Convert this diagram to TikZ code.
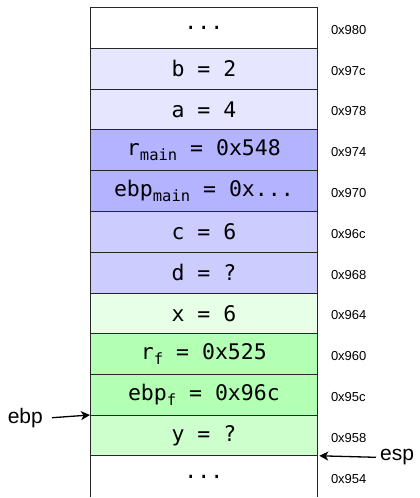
\documentclass[tikz,border=0pt]{standalone}
\usepackage{fontspec}
\setmainfont{Liberation Sans}
\newfontfamily\cellfont{DejaVu Sans Mono}
\usetikzlibrary{arrows.meta}
\definecolor{cWhite}{RGB}{255,255,255}
\definecolor{cLav}{RGB}{230,230,255}
\definecolor{cBlueDark}{RGB}{179,179,255}
\definecolor{cBlue}{RGB}{204,204,255}
\definecolor{cMint}{RGB}{230,255,230}
\definecolor{cGreenDark}{RGB}{179,255,179}
\definecolor{cGreen}{RGB}{204,255,204}
\newcommand\subtxt[1]{\raisebox{-5.5pt}{\fontsize{15.5}{15.5}\selectfont #1}}
\begin{document}
\begin{tikzpicture}[x=1pt,y=1pt,
  cell/.style={draw=black!85,line width=0.8pt,minimum width=227pt,minimum height=40.8pt,
    inner sep=0pt,anchor=north west,font=\cellfont\fontsize{21.5}{21.5}\selectfont},
  addr/.style={anchor=west,inner sep=0pt,font=\fontsize{13}{13}\selectfont},
  lbl/.style={inner sep=0pt,font=\fontsize{21}{21}\selectfont},
  ptr/.style={-{Stealth[length=9pt,width=9pt,inset=2.5pt]},line width=1.3pt}]
\useasboundingbox (0,-498) rectangle (420,0);
% rows
\node[cell,fill=cWhite] (r0) at (90,-7) {...};
\node[cell,fill=cLav] (r1) at (90,-47.8) {b = 2};
\node[cell,fill=cLav] (r2) at (90,-88.6) {a = 4};
\node[cell,fill=cBlueDark] (r3) at (90,-129.4) {r\subtxt{main} = 0x548};
\node[cell,fill=cBlueDark] (r4) at (90,-170.2) {ebp\subtxt{main} = 0x...};
\node[cell,fill=cBlue] (r5) at (90,-211.0) {c = 6};
\node[cell,fill=cBlue] (r6) at (90,-251.8) {d = ?};
\node[cell,fill=cMint] (r7) at (90,-292.6) {x = 6};
\node[cell,fill=cGreenDark] (r8) at (90,-333.4) {r\subtxt{f} = 0x525};
\node[cell,fill=cGreenDark] (r9) at (90,-374.2) {ebp\subtxt{f} = 0x96c};
\node[cell,fill=cGreen] (r10) at (90,-415.0) {y = ?};
\node[cell,draw=none,fill=cWhite] (r11) at (90,-455.8) {...};
\draw[black!85,line width=0.8pt] (r11.south west) -- (r11.north west) -- (r11.north east) -- (r11.south east);
% addresses
\foreach \n/\a in {0/0x980,1/0x97c,2/0x978,3/0x974,4/0x970,5/0x96c,6/0x968,7/0x964,8/0x960,9/0x95c,10/0x958,11/0x954}
  \node[addr] (a\n) at ([xshift=13pt,yshift=-2pt]r\n.east) {\a};
% pointers
\coordinate (ebpstart) at (52,-417.7);
\node[lbl,anchor=east] (ebp) at ([xshift=-9pt]ebpstart) {ebp};
\draw[ptr] (ebpstart) -- (r10.north west);
\coordinate (espstart) at (376,-457.3);
\node[lbl,anchor=west] (esp) at ([xshift=4pt]espstart) {esp};
\draw[ptr] (espstart) -- ([xshift=1.5pt]r11.north east);
\end{tikzpicture}
\end{document}
